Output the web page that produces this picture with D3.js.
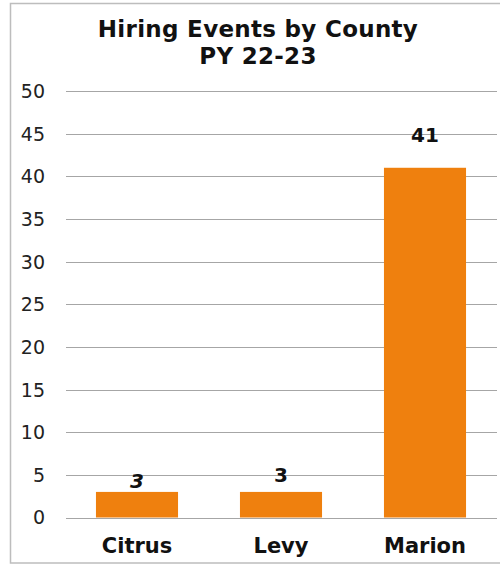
<!DOCTYPE html>
<html><head><meta charset="utf-8">
<script src="https://cdn.jsdelivr.net/npm/d3@7"></script>
<style>body{margin:0;background:#fff}svg{display:block}</style>
</head><body>
<script>
const categories = ["Citrus", "Levy", "Marion"];
const values = [3, 3, 41];
const labelItalic = [true, false, false];
const yTicks = [0, 5, 10, 15, 20, 25, 30, 35, 40, 45, 50];
const titleLines = ["Hiring Events by County", "PY 22-23"];

// layout constants (not data)
const labelGap = [4, 10, 26];

const W = 500, H = 566;
const svg = d3.select("body").append("svg").attr("width", W).attr("height", H);
svg.append("rect").attr("x", 10.5).attr("y", 3.5).attr("width", 520).attr("height", 559.5)
  .attr("fill", "#fff").attr("stroke", "#bdbdbd").attr("stroke-width", 1.5);

const x = d3.scaleBand().domain(categories).range([65, 497]).paddingInner(0.43).paddingOuter(0.215);
const y = d3.scaleLinear().domain([0, 50]).range([517.5, 91]);

const font = "DejaVu Sans, Verdana, sans-serif";

svg.append("g").selectAll("line").data(yTicks).join("line")
  .attr("x1", 66).attr("x2", 497)
  .attr("y1", d => Math.round(y(d)) + 0.5).attr("y2", d => Math.round(y(d)) + 0.5)
  .attr("stroke", "#a6a6a6").attr("stroke-width", 1);

const yAxis = d3.axisLeft(y).tickValues(yTicks).tickSize(0).tickPadding(0);
const ga = svg.append("g").attr("transform", "translate(45,0)").call(yAxis);
ga.select(".domain").remove();
ga.selectAll("text").attr("font-family", font).attr("font-size", 19).attr("fill", "#222").attr("dy", "0.34em");

svg.append("g").selectAll("rect").data(values).join("rect")
  .attr("x", (d, i) => x(categories[i])).attr("width", x.bandwidth())
  .attr("y", d => y(d)).attr("height", d => y(0) - y(d))
  .attr("fill", "#ef800e");

svg.append("g").selectAll("text").data(values).join("text")
  .attr("x", (d, i) => x(categories[i]) + x.bandwidth() / 2)
  .attr("y", (d, i) => y(d) - labelGap[i])
  .attr("text-anchor", "middle").attr("font-family", font).attr("font-weight", "bold")
  .attr("font-style", (d, i) => labelItalic[i] ? "italic" : "normal")
  .attr("font-size", 20).attr("fill", "#111").text(d => d);

const xAxis = d3.axisBottom(x).tickSize(0).tickPadding(0);
const gx = svg.append("g").attr("transform", "translate(0,553)").call(xAxis);
gx.select(".domain").remove();
gx.selectAll("text").attr("font-family", font).attr("font-weight", "bold").attr("font-size", 21).attr("fill", "#111").attr("dy", 0);

svg.append("g").selectAll("text").data(titleLines).join("text")
  .attr("x", 258).attr("y", (d, i) => 37 + i * 27)
  .attr("text-anchor", "middle").attr("font-family", font).attr("font-weight", "bold")
  .attr("letter-spacing", 0.3)
  .attr("font-size", 23).attr("fill", "#111").text(d => d);
</script>
</body></html>
